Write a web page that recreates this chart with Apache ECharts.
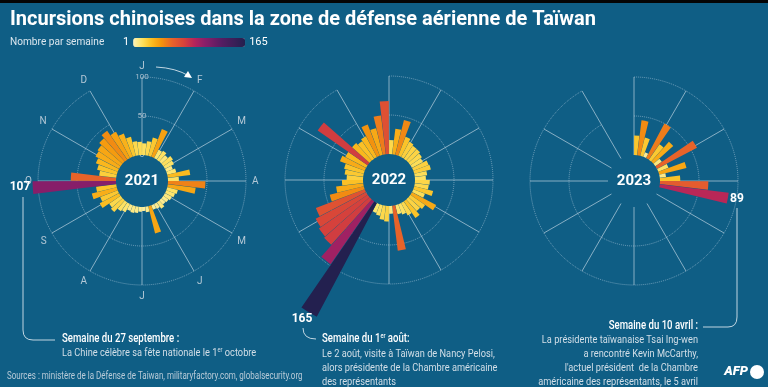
<!DOCTYPE html>
<html><head><meta charset="utf-8">
<script src="https://cdn.jsdelivr.net/npm/echarts@6/dist/echarts.min.js"></script>
<style>html,body{margin:0;padding:0;background:#0f5e85;}#c{width:768px;height:387px;}</style>
</head><body><div id="c"></div>
<script>
// ---- data ----
const weeks = Array.from({length: 52}, (_, i) => 'S' + (i + 1));
const months = ['J','F','M','A','M','J','J','A','S','O','N','D'];
const years = ['2021', '2022', '2023'];
const radiusTicks = [0, 50, 100];
const values2021 = [15,18,24,38,12,14,11,15,13,9, 12,29,14,48,36,14,12,10,8,7, 10,7,6,36,7,5,6,8,9,8, 12,14,20,18,28,24,33,26,107,58, 22,26,30,34,36,40,45,38,32,25,18,17];
const values2022 = [18,33,46,26,22,20,20,18,16,21, 22,16,14,19,18,25,16,35,23,20, 26,18,14,12,58,10,20,18,14,12, 165,98,78,76,73,67,45,35,27,21, 24,26,34,30,78,30,27,30,43,35,50,68];
const values2023 = [25,45,24,6,50,24,34,10,58,14,36,8,26,62,89];
const legendMin = 1, legendMax = 165;

// ---- style helpers ----
const colorStops = [[1,'#fdf3b8'],[15,'#fde15a'],[28,'#fbbd1f'],[42,'#f4950c'],[58,'#e8632a'],[75,'#d7433a'],[90,'#b8245a'],[105,'#8c1e6a'],[130,'#561d62'],[165,'#23204f']];
function hex(c){return [1,3,5].map(i=>parseInt(c.slice(i,i+2),16));}
function interp(v){
  for (let i=0;i<colorStops.length-1;i++){
    const [a,ca]=colorStops[i],[b,cb]=colorStops[i+1];
    if (v<=b){const t=(v-a)/(b-a);const A=hex(ca),B=hex(cb);
      return 'rgb('+A.map((x,j)=>Math.round(x+(B[j]-x)*t)).join(',')+')';}
  }
  return colorStops[colorStops.length-1][1];
}
const ramp=[]; for(let i=0;i<=40;i++) ramp.push(interp(legendMin+(legendMax-legendMin)*i/40));

const centers = [[142,181],[389,180],[634,181]];
const R = [26,104];
const allValues = [values2021, values2022, values2023];
const FF = 'Roboto, sans-serif';
const txtCol = '#d3dfe8';
const lineCol = 'rgba(225,235,242,0.85)';

const polar = [], angleAxis = [], radiusAxis = [], series = [];
centers.forEach((c, k) => {
  polar.push({center: c, radius: R});
  angleAxis.push({polarIndex: 2*k, type: 'category', data: months, boundaryGap: false, startAngle: 90, clockwise: true,
    axisLine: {show: false}, axisTick: {show: false},
    axisLabel: {show: k === 0, color: '#b4c8d6', fontSize: 10, margin: 6, fontFamily: 'Roboto'},
    splitLine: {show: true, lineStyle: {color: 'rgba(215,228,238,0.6)', width: 1}}});
  radiusAxis.push({polarIndex: 2*k, type: 'value', min: radiusTicks[0], max: radiusTicks[2], interval: radiusTicks[1]-radiusTicks[0],
    axisLine: {show: false}, axisTick: {show: false},
    axisLabel: {show: k === 0, color: '#a9bfcf', fontSize: 8, margin: 0, align: 'center', verticalAlign: 'middle', fontFamily: 'Roboto'},
    splitLine: {show: true, lineStyle: {type: 'dotted', width: 1, color: ['rgba(0,0,0,0)','rgba(200,220,235,0.5)','rgba(200,220,235,0.5)']}}});
  polar.push({center: c, radius: R});
  angleAxis.push({polarIndex: 2*k+1, type: 'category', data: weeks, startAngle: 90, clockwise: true,
    axisLine: {show: false}, axisTick: {show: false}, axisLabel: {show: false}, splitLine: {show: false}});
  radiusAxis.push({polarIndex: 2*k+1, type: 'value', min: radiusTicks[0], max: radiusTicks[2], show: false,
    axisLine: {show: false}, axisTick: {show: false}, axisLabel: {show: false}, splitLine: {show: false}});
  series.push({type: 'bar', coordinateSystem: 'polar', polarIndex: 2*k+1, name: years[k],
    data: allValues[k].map((v, i) => [v, i]), barCategoryGap: '4%', clip: false, z: 5, silent: true});
});

const g = [];
g.push({type:'rect', shape:{x:0,y:0,width:768,height:3}, style:{fill:'#050505'}});
function T(x,y,text,font,fill,align,sx,extra){
  g.push({type:'text', x:x, y:y, z:20, scaleX: sx || 1,
    style:Object.assign({text:text, font:font, fill:fill, textAlign:align||'left', textVerticalAlign:'middle'}, extra||{})});
}
T(10, 20, 'Incursions chinoises dans la zone de défense aérienne de Taïwan', 'bold 20px ' + FF, '#ffffff');
T(10, 42, 'Nombre par semaine', '11px ' + FF, '#dbe6ee', 'left', 0.92);
centers.forEach((c,k)=>T(c[0], c[1], years[k], 'bold 15px ' + FF, '#ffffff', 'center'));
T(20, 187, '107', 'bold 12px ' + FF, '#ffffff', 'center');
T(302, 319, '165', 'bold 12px ' + FF, '#ffffff', 'center');
T(737, 199, '89', 'bold 12px ' + FF, '#ffffff', 'center');

const HS = 0.8, BS = 0.84;
const hFont = '500 12px ' + FF, bFont = '11px ' + FF;
const supRich = {s:{font:'7px ' + FF, fill: txtCol, verticalAlign:'top', padding:[0,0,6,0]}, b:{font:'500 7px ' + FF, fill:'#ffffff', padding:[0,0,6,0]}};
// annotation 1
T(62, 339, 'Semaine du 27 septembre :', hFont, '#ffffff', 'left', HS);
T(62, 353, 'La Chine célèbre sa fête nationale le 1{s|er} octobre', bFont, txtCol, 'left', BS, {rich: supRich});
// annotation 2
T(322, 339, 'Semaine du 1{b|er} août:', hFont, '#ffffff', 'left', HS, {rich: supRich});
T(322, 354, 'Le 2 août, visite à Taïwan de Nancy Pelosi,', bFont, txtCol, 'left', BS);
T(322, 368, 'alors présidente de la Chambre américaine', bFont, txtCol, 'left', BS);
T(322, 382, 'des représentants', bFont, txtCol, 'left', BS);
// annotation 3
T(698, 326, 'Semaine du 10 avril :', hFont, '#ffffff', 'right', HS);
T(698, 340, 'La présidente taïwanaise Tsai Ing-wen', bFont, txtCol, 'right', BS);
T(698, 354, 'a rencontré Kevin McCarthy,', bFont, txtCol, 'right', BS);
T(698, 368, 'l\'actuel président  de la Chambre', bFont, txtCol, 'right', BS);
T(698, 382, 'américaine des représentants, le 5 avril', bFont, txtCol, 'right', BS);
// sources
T(7, 376, 'Sources : ministère de la Défense de Taiwan, militaryfactory.com, globalsecurity.org', '10px ' + FF, '#b9cbd8', 'left', 0.8);
// AFP logo
T(736, 372, 'AFP', 'italic 900 13px ' + FF, '#ffffff', 'center');
g.push({type:'circle', shape:{cx:757, cy:372, r:7}, style:{fill:'#ffffff'}, z:20});

// leader lines
function L(points){ g.push({type:'polyline', shape:{points:points}, style:{stroke:lineCol, lineWidth:1, fill:null}, z:20}); }
function Q(x1,y1,cx,cy,x2,y2){ g.push({type:'bezierCurve', shape:{x1:x1,y1:y1,cpx1:cx,cpy1:cy,x2:x2,y2:y2}, style:{stroke:lineCol, lineWidth:1, fill:null}, z:20}); }
L([[23,197],[23,330]]); Q(23,330,23,340,33,340); L([[33,340],[55,340]]);
Q(303,328,303,339,316,339);
L([[737,208],[737,317]]); Q(737,317,737,327,728,327); L([[728,327],[703,327]]);
// arrow near J
Q(156,67,176,68,189,76);
g.push({type:'polygon', shape:{points:[[192,78],[184,77],[188,71]]}, style:{fill:'#ffffff'}, z:20});

const option = {
  backgroundColor: '#0f5e85',
  animation: false,
  polar: polar, angleAxis: angleAxis, radiusAxis: radiusAxis, series: series,
  visualMap: {type:'continuous', min: legendMin, max: legendMax, dimension: 0, seriesIndex: [0,1,2],
    orient:'horizontal', left: 108, top: 22, itemWidth: 9, itemHeight: 112, text:[String(legendMax), String(legendMin)], textGap: 4,
    textStyle:{color:'#ffffff', fontSize: 11, fontFamily:'Roboto'}, calculable:false, hoverLink:false, inRange:{color: ramp}},
  graphic: g
};
const chart = echarts.init(document.getElementById('c'));
chart.setOption(option);
</script></body></html>
